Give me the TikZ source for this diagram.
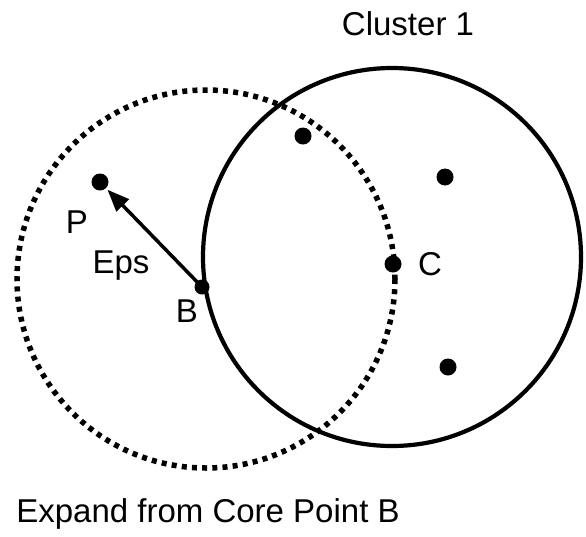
\documentclass[tikz,border=0pt]{standalone}
\usepackage{fontspec}
\setmainfont{Liberation Sans}
\usetikzlibrary{arrows.meta}
\begin{document}
\begin{tikzpicture}[x=1pt,y=-1pt,
  pt/.style={circle,fill=black,inner sep=0pt,minimum size=17pt},
  lbl/.style={font=\fontsize{33}{36}\selectfont,inner sep=0pt,anchor=base},
  solidcirc/.style={line width=4.2pt},
  dotcirc/.style={line width=5.5pt,dash pattern=on 5pt off 5.2pt},
  epsarrow/.style={line width=3.5pt,-{Triangle[length=22pt,width=17pt]},shorten >=2pt}]
\useasboundingbox (0,0) rectangle (586,536);
\coordinate (Ccenter) at (392,257);
\draw[solidcirc] (Ccenter) circle[radius=189];
\draw[dotcirc] (206,279) circle[radius=189];
\node[pt] (P) at (100,182) {};
\node[pt] (T) at (303,136) {};
\node[pt] (R) at (445,177) {};
\node[pt] (C) at (393,264) {};
\node[pt] (L) at (448,367) {};
\node[pt,minimum size=15pt] (B) at (202,287) {};
\draw[epsarrow] (B.center) -- (P);
\node[lbl] (Plbl) at (77,233) {P};
\node[lbl] (Eps) at (121,273) {Eps};
\node[lbl] (Blbl) at (187,322) {B};
\node[lbl] (Clbl) at (430,275) {C};
\node[lbl] (clu) at (408,35) {Cluster 1};
\node[lbl] (cap) at (208,522) {Expand from Core Point B};
\end{tikzpicture}
\end{document}
